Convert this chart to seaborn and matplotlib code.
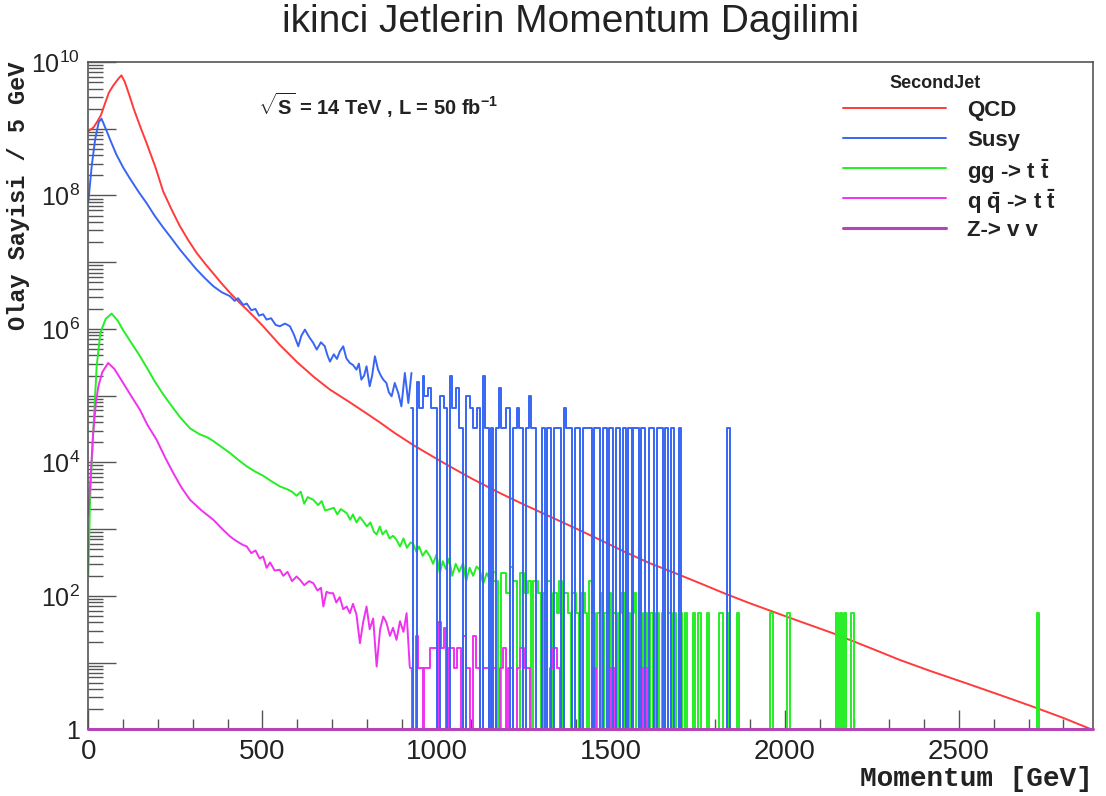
import numpy as np
import pandas as pd
import matplotlib
matplotlib.use("Agg")
import matplotlib.pyplot as plt
import seaborn as sns
from matplotlib.ticker import LogLocator, FuncFormatter, MultipleLocator, NullFormatter

sns.set_theme(style="white")
plt.rcParams['font.family'] = ['Liberation Sans', 'DejaVu Sans']
plt.rcParams['mathtext.fontset'] = 'custom'
plt.rcParams['mathtext.rm'] = 'Liberation Sans'
plt.rcParams['mathtext.bf'] = 'Liberation Sans:bold'
plt.rcParams['mathtext.it'] = 'Liberation Sans:italic'
plt.rcParams['mathtext.sf'] = 'Liberation Sans'

# ---------------- data ----------------
labels = ["QCD", "Susy", r"gg -> t $\mathbf{\bar{t}}$",
          r"q $\mathbf{\bar{q}}$ -> t $\mathbf{\bar{t}}$", "Z-> v v"]
colors = ["#ff3b3b", "#3866f2", "#25ee25", "#f032f0", "#b445b8"]

x_max = 2885

# QCD: smooth spectrum (GeV, log10 entries per 5 GeV)
qcd_gev = [2, 15, 25, 36, 48, 59, 72, 85, 95, 105, 118, 131, 150, 167, 193, 215, 240, 263, 287,
           311, 335, 359, 383, 407, 431, 455, 480, 502, 550, 600, 650, 694, 751, 800, 837, 880,
           933, 985, 1038, 1100, 1182, 1250, 1325, 1400, 1469, 1540, 1612, 1690, 1756, 1830,
           1899, 2020, 2138, 2240, 2330, 2420, 2521, 2620, 2712, 2800, 2880]
qcd_log10 = [8.97, 9.02, 9.10, 9.20, 9.38, 9.54, 9.65, 9.74, 9.80, 9.70, 9.50, 9.29, 9.02, 8.79,
             8.42, 8.06, 7.78, 7.54, 7.33, 7.14, 6.98, 6.83, 6.68, 6.54, 6.41, 6.29, 6.16, 6.04,
             5.76, 5.50, 5.27, 5.09, 4.90, 4.73, 4.60, 4.44, 4.26, 4.10, 3.94, 3.76, 3.54, 3.37,
             3.19, 3.01, 2.84, 2.66, 2.49, 2.33, 2.19, 2.03, 1.89, 1.66, 1.44, 1.23, 1.04, 0.87,
             0.69, 0.51, 0.34, 0.17, 0.00]

# Susy: dense part
susy_gev = [0, 10, 20, 30, 38, 50, 64, 80, 100, 120, 145, 168, 190, 215, 240, 263, 290, 311, 335,
            359, 383, 407, 420, 430, 445, 455, 468, 480, 490, 502, 512, 525, 538, 550, 565, 579,
            590, 603, 612, 622, 634, 646, 656, 668, 679, 687, 694, 705, 714, 722, 732, 741, 751,
            760, 770, 777, 784, 792, 799, 808, 815, 823, 832, 840, 847, 856, 863, 871, 880, 890,
            899, 909, 919, 928]
susy_log10 = [7.90, 8.45, 8.85, 9.10, 9.15, 9.00, 8.82, 8.62, 8.42, 8.25, 8.05, 7.88, 7.70, 7.52,
              7.35, 7.19, 7.02, 6.89, 6.76, 6.64, 6.55, 6.49, 6.42, 6.46, 6.36, 6.38, 6.28, 6.30,
              6.20, 6.22, 6.14, 6.16, 6.06, 6.04, 6.08, 6.04, 5.92, 5.74, 5.90, 5.99, 5.88, 5.79,
              5.69, 5.80, 5.74, 5.60, 5.51, 5.62, 5.55, 5.66, 5.74, 5.56, 5.49, 5.46, 5.39, 5.48,
              5.24, 5.30, 5.44, 5.14, 5.30, 5.59, 5.39, 5.30, 5.24, 5.19, 5.05, 4.99, 5.19, 5.04,
              4.84, 5.34, 4.89, 5.34]
# Susy: sparse tail (bin start in GeV, number of events; one event = susy_event_weight)
susy_event_weight = 3.24e4
susy_tail_start = [928, 933, 943, 950, 960, 965, 975, 985, 1000, 1010, 1020, 1029, 1038, 1045,
                   1055, 1065, 1076, 1086, 1095, 1105, 1115, 1124, 1133, 1138, 1152, 1157, 1162,
                   1171, 1180, 1186, 1200, 1210, 1219, 1230, 1236, 1249, 1258, 1265, 1270, 1287,
                   1302, 1310, 1316, 1330, 1338, 1358, 1365, 1372, 1390, 1397, 1412, 1420, 1445,
                   1452, 1470, 1478, 1490, 1496, 1508, 1515, 1528, 1534, 1545, 1550, 1560, 1565,
                   1582, 1588, 1600, 1610, 1625, 1632, 1650, 1657, 1665, 1672, 1682, 1695, 1702,
                   1835, 1842]
susy_tail_events = [2, 0, 5, 2, 6, 3, 4, 2, 0, 3, 2, 0, 6, 2, 4, 1, 0, 3, 2, 1, 2, 0, 6, 1, 0,
                    1, 0, 1, 4, 1, 2, 0, 1, 2, 1, 0, 1, 3, 1, 0, 1, 0, 1, 0, 1, 0, 2, 1, 0, 1,
                    0, 1, 0, 1, 0, 1, 0, 1, 0, 1, 0, 1, 0, 1, 0, 1, 0, 1, 0, 1, 0, 1, 0, 1, 0,
                    1, 0, 1, 0, 1, 0]

# gg -> t tbar: dense part
gg_gev = [0, 5, 14, 24, 35, 50, 67, 85, 100, 120, 145, 168, 190, 215, 240, 263, 292, 320, 340,
          359, 380, 407, 430, 455, 480, 502, 525, 550, 570, 585, 598, 610, 620, 630, 646, 660,
          670, 680, 694, 705, 715, 725, 742, 752, 760, 770, 780, 789, 800, 810, 820, 828, 837,
          845, 855, 865, 875, 885, 895, 905, 915, 925, 933, 942, 950, 960, 970, 981, 990, 1000,
          1009, 1018, 1027, 1036, 1045, 1055, 1065, 1076, 1085, 1095, 1105, 1115, 1124, 1134,
          1144, 1155, 1165]
gg_log10 = [2.30, 3.44, 4.44, 5.44, 5.95, 6.15, 6.23, 6.12, 5.98, 5.82, 5.62, 5.42, 5.22, 5.02,
            4.84, 4.68, 4.51, 4.42, 4.38, 4.32, 4.24, 4.14, 4.04, 3.94, 3.86, 3.80, 3.72, 3.64,
            3.60, 3.56, 3.50, 3.56, 3.38, 3.48, 3.44, 3.36, 3.42, 3.28, 3.30, 3.32, 3.22, 3.30,
            3.24, 3.14, 3.22, 3.10, 3.18, 3.12, 3.04, 3.10, 2.96, 2.92, 3.04, 2.92, 2.98, 2.86,
            2.90, 2.84, 2.74, 2.86, 2.72, 2.80, 2.78, 2.66, 2.74, 2.60, 2.68, 2.59, 2.48, 2.62,
            2.34, 2.52, 2.40, 2.56, 2.30, 2.48, 2.36, 2.49, 2.22, 2.42, 2.30, 2.44, 2.39, 2.18,
            2.34, 2.22, 2.36]
gg_event_weight = 55.0
gg_tail_start = [1165, 1177, 1185, 1200, 1210, 1220, 1232, 1240, 1250, 1262, 1270, 1276, 1290,
                 1300, 1306, 1318, 1328, 1334, 1345, 1352, 1360, 1366, 1378, 1385, 1390, 1400,
                 1408, 1414, 1425, 1432, 1438, 1446, 1456, 1462, 1470, 1476, 1482, 1495, 1500,
                 1506, 1515, 1522, 1530, 1540, 1546, 1555, 1560, 1568, 1574, 1580, 1590, 1596,
                 1605, 1612, 1622, 1630, 1640, 1648, 1655, 1665, 1672, 1680, 1688, 1698, 1705,
                 1712, 1720, 1735, 1742, 1750, 1758, 1777, 1782, 1812, 1823, 1834, 1839, 1862,
                 1868, 1957, 1966, 2005, 2016, 2148, 2153, 2158, 2164, 2170, 2176, 2190, 2200,
                 2723, 2730]
gg_tail_events = [3, 0, 4, 2, 5, 3, 0, 4, 2, 3, 0, 3, 2, 0, 2, 3, 0, 2, 1, 3, 0, 2, 1, 0, 2,
                  1, 0, 2, 1, 0, 3, 1, 0, 1, 2, 0, 1, 2, 0, 1, 0, 1, 2, 0, 1, 0, 1, 2, 0, 1,
                  0, 1, 0, 1, 0, 1, 0, 1, 0, 1, 0, 1, 0, 1, 0, 1, 0, 1, 0, 1, 0, 1, 0, 1, 0,
                  1, 0, 1, 0, 1, 0, 1, 0, 1, 0, 1, 0, 1, 0, 1, 0, 1, 0]

# q qbar -> t tbar: dense part
qq_gev = [0, 5, 14, 22, 29, 40, 57, 75, 100, 125, 148, 170, 196, 220, 244, 268, 292, 325, 359,
          385, 407, 420, 432, 445, 455, 468, 480, 492, 502, 512, 522, 535, 550, 560, 572, 585,
          598, 608, 620, 634, 646, 658, 668, 675, 684, 694, 703, 712, 722, 732, 742, 751, 760,
          770, 780, 789, 799, 808, 818, 828, 838, 847, 856, 866, 875, 885, 895, 905, 914, 923]
qq_log10 = [3.20, 3.64, 4.44, 4.90, 5.14, 5.35, 5.49, 5.40, 5.19, 4.98, 4.79, 4.56, 4.34, 4.08,
            3.84, 3.62, 3.44, 3.28, 3.14, 3.00, 2.89, 2.84, 2.80, 2.76, 2.74, 2.64, 2.68, 2.56,
            2.59, 2.42, 2.50, 2.38, 2.39, 2.30, 2.36, 2.22, 2.29, 2.24, 2.16, 2.22, 2.19, 2.08,
            2.12, 1.84, 2.06, 2.04, 2.04, 1.90, 1.98, 1.80, 1.84, 1.74, 1.88, 1.72, 1.29, 1.60,
            1.84, 1.50, 1.66, 0.94, 1.50, 1.69, 1.60, 1.40, 1.52, 1.34, 1.62, 1.46, 1.74, 0.94]
qq_event_weight = 8.2
qq_tail_start = [923, 930, 940, 947, 960, 965, 981, 1000, 1005, 1012, 1020, 1026, 1034, 1050,
                 1060, 1070, 1076, 1086, 1095, 1105, 1112, 1124, 1134, 1150, 1158, 1170, 1182,
                 1190, 1200, 1206, 1220, 1230, 1240, 1250, 1268, 1325, 1335, 1345, 1354, 1450,
                 1459, 1502, 1512, 1593, 1603]
qq_tail_events = [1, 0, 3, 1, 0, 1, 2, 0, 5, 2, 4, 0, 2, 1, 2, 0, 3, 1, 0, 3, 1, 0, 1, 0, 1,
                  0, 1, 2, 0, 1, 0, 1, 2, 1, 0, 1, 2, 1, 0, 1, 0, 1, 0, 1, 0]

# Z -> nu nu: no entries (drawn on the lower frame)
zvv_gev = [0, x_max]
zvv_events = [0, 0]

# ---------------- helpers ----------------
def dense_frame(gev, log10):
    return pd.DataFrame({"gev": gev, "n": np.power(10.0, np.asarray(log10))})

def tail_frame(starts, events, weight):
    vals = [e * weight if e > 0 else 1.0 for e in events]
    return pd.DataFrame({"gev": list(starts) + [x_max], "n": vals + [vals[-1]]})

# ---------------- figure ----------------
fig = plt.figure(figsize=(11.06, 7.96), dpi=100)
ax = fig.add_axes([88.3 / 1106, (796 - 729.3) / 796, 1004.7 / 1106, 667.3 / 796])
ax.set_yscale("log")

lw = 1.4

sns.lineplot(data=dense_frame(qcd_gev, qcd_log10), x="gev", y="n", ax=ax, color=colors[0],
             lw=lw, estimator=None, sort=False)

for gev, lg, st, ev, w, c in [
    (gg_gev, gg_log10, gg_tail_start, gg_tail_events, gg_event_weight, colors[2]),
    (qq_gev, qq_log10, qq_tail_start, qq_tail_events, qq_event_weight, colors[3]),
    (susy_gev, susy_log10, susy_tail_start, susy_tail_events, susy_event_weight, colors[1]),
]:
    sns.lineplot(data=dense_frame(gev, lg), x="gev", y="n", ax=ax, color=c, lw=lw,
                 estimator=None, sort=False)
    sns.lineplot(data=tail_frame(st, ev, w), x="gev", y="n", ax=ax, color=c, lw=lw,
                 estimator=None, sort=False, drawstyle="steps-post")

zdf = pd.DataFrame({"gev": zvv_gev, "n": [max(v, 1.0) for v in zvv_events]})
sns.lineplot(data=zdf, x="gev", y="n", ax=ax, color=colors[4], lw=2.2,
             estimator=None, sort=False, clip_on=False, zorder=5)

ax.set_xlim(0, x_max)
ax.set_ylim(1, 1e10)

# ticks in ROOT style
ax.yaxis.set_major_locator(LogLocator(base=10, subs=(1.0,), numticks=20))
ax.yaxis.set_minor_locator(LogLocator(base=10, subs=np.arange(2, 10), numticks=20))
ax.yaxis.set_minor_formatter(NullFormatter())

def yfmt(v, pos):
    e = int(round(np.log10(v)))
    if e % 2:
        return ""
    return "1" if e == 0 else r"$10^{%d}$" % e

ax.yaxis.set_major_formatter(FuncFormatter(yfmt))
ax.xaxis.set_major_locator(MultipleLocator(500))
ax.xaxis.set_minor_locator(MultipleLocator(100))

ax.tick_params(axis="y", which="major", direction="in", length=20, width=1.0, color="#555555",
               labelsize=18, pad=6, left=True, right=False)
ax.tick_params(axis="y", which="minor", direction="in", length=11, width=1.0, color="#555555",
               left=True, right=False)
ax.tick_params(axis="x", which="major", direction="in", length=14, width=1.0, color="#555555",
               labelsize=20, pad=7, bottom=True, top=False)
ax.tick_params(axis="x", which="minor", direction="in", length=7, width=1.0, color="#555555",
               bottom=True, top=False)
for lab in ax.get_xticklabels() + ax.get_yticklabels():
    lab.set_color("#222222")

for s in ax.spines.values():
    s.set_color("#555555")
    s.set_linewidth(1.2)
    s.set_visible(True)

ax.grid(False)

# axis titles
ax.set_xlabel("Momentum [GeV]", family="Liberation Mono", weight="bold", fontsize=20,
              loc="right", color="#222222")
ax.xaxis.set_label_coords(1.0, -0.055)
ax.set_ylabel("Olay Sayisi / 5 GeV", family="Liberation Mono", weight="bold", fontsize=17,
              loc="top", color="#222222")
ax.yaxis.set_label_coords(-0.058, 1.0)

# title
fig.text(571 / 1106, 1 - 22 / 796, "ikinci Jetlerin Momentum Dagilimi", ha="center",
         va="center", fontsize=28, color="#222222")

# energy / lumi text
ax.text(0.169, 0.9356, r"$\mathbf{\sqrt{S}}$ = 14 TeV , L = 50 fb$^{\mathbf{-1}}$",
        transform=ax.transAxes, ha="left", va="center", fontsize=14.5, weight="bold",
        color="#222222")

# legend (ROOT TLegend look: header, fixed row pitch)
def ax_x(px):
    return (px - 88.3) / 1004.7

def ax_y(py):
    return (729.3 - py) / 667.3

ax.text(ax_x(935), ax_y(84), "SecondJet", transform=ax.transAxes, ha="center", va="center",
        fontsize=13, weight="bold", color="#222222")
for i, (lab, col) in enumerate(zip(labels, colors)):
    yy = ax_y(108 + 30 * i)
    ax.plot([ax_x(843), ax_x(946)], [yy, yy], transform=ax.transAxes, color=col,
            lw=2.2 if i == 4 else lw, clip_on=False)
    ax.text(ax_x(967), yy, lab, transform=ax.transAxes, ha="left", va="center_baseline",
            fontsize=16, weight="bold", color="#222222")

fig.savefig("out.png", dpi=100, facecolor="white")
